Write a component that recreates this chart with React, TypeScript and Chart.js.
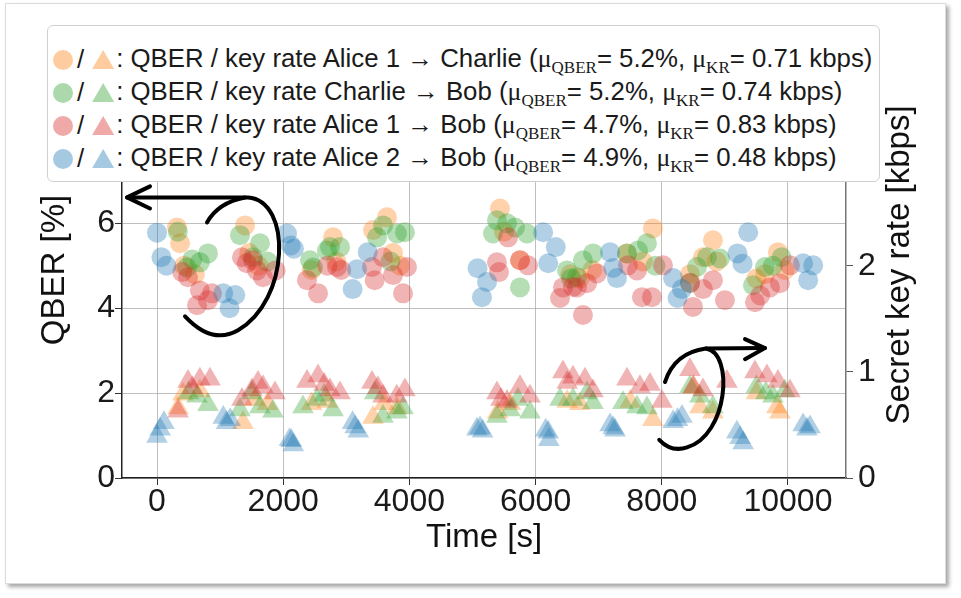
import React, { useEffect, useRef } from "react";
import { Chart, registerables } from "chart.js";

Chart.register(...registerables);

type Pt = [number, number];

const FONT = '"Liberation Sans", Arial, Helvetica, sans-serif';
const SERIF = '"Liberation Serif", "DejaVu Serif", serif';

// Link names and their mean values shown in the legend
const linkNames = ["Alice 1 → Charlie", "Charlie → Bob", "Alice 1 → Bob", "Alice 2 → Bob"];
const qberMeans = ["5.2", "5.2", "4.7", "4.9"];
const rateMeans = ["0.71", "0.74", "0.83", "0.48"];
const linkColors = ["255,127,14", "44,160,44", "214,39,40", "31,119,180"];

// Axis ticks
const timeTicks = [0, 2000, 4000, 6000, 8000, 10000];
const qberTicks = [0, 2, 4, 6];
const rateTicks = [0, 1, 2];

// Alice 1 → Charlie: [time s, QBER %] and [time s, key rate kbps]
const aliceCharlieQber: Pt[] = [
  [317, 5.9], [365, 5.53], [430, 5.0], [600, 4.8], [1395, 5.95], [1460, 5.3], [1610, 5.0],
  [2450, 4.9], [2790, 5.67], [2840, 5.1], [3423, 5.84], [3645, 6.14], [3740, 5.3], [3850, 5.0],
  [5436, 6.35], [5500, 5.8], [5753, 5.13], [6550, 4.8], [6700, 4.7], [6900, 4.9],
  [7448, 5.29], [7700, 5.1], [7860, 5.88], [8447, 4.8], [8653, 5.2], [8811, 5.6], [8870, 5.1],
  [9500, 4.7], [9636, 4.8], [9841, 5.32], [9950, 4.9],
];
const aliceCharlieRate: Pt[] = [
  [333, 0.66], [412, 0.79], [680, 0.82], [1363, 0.52], [1550, 0.74], [1750, 0.7],
  [2450, 0.7], [2700, 0.72], [3423, 0.57], [3600, 0.7], [3800, 0.66], [5400, 0.62], [5600, 0.7],
  [6500, 0.72], [6700, 0.7], [7500, 0.72], [7860, 0.55], [8500, 0.85], [8605, 0.67], [8811, 0.62],
  [9500, 0.8], [9825, 0.67], [9873, 0.62],
];

// Charlie → Bob
const charlieBobQber: Pt[] = [
  [330, 5.8], [475, 4.96], [560, 5.15], [680, 5.08], [808, 5.29], [1315, 5.72], [1521, 5.2],
  [1632, 5.53], [1750, 5.1], [2425, 5.13], [2472, 4.96], [2694, 5.36], [2742, 5.44], [2900, 5.44],
  [3487, 5.67], [3582, 5.95], [3700, 5.1], [3803, 5.76], [3930, 5.79], [5325, 5.76], [5388, 6.07],
  [5547, 6.0], [5674, 5.9], [5753, 4.49], [5864, 5.76], [6498, 4.89], [6560, 4.7], [6656, 4.73],
  [6751, 5.13], [6910, 5.29], [7448, 5.29], [7623, 5.36], [7765, 5.53], [7900, 5.0], [8447, 4.59],
  [8558, 4.97], [8716, 5.2], [8922, 5.17], [9445, 4.54], [9636, 4.97], [9760, 5.0], [9900, 5.2],
];
const charlieBobRate: Pt[] = [
  [500, 0.8], [634, 0.77], [808, 0.69], [1315, 0.64], [1500, 0.8], [1632, 0.67], [1838, 0.63],
  [2314, 0.67], [2536, 0.74], [2650, 0.78], [2790, 0.64], [3450, 0.8], [3582, 0.58], [3803, 0.62],
  [3900, 0.66], [5388, 0.58], [5595, 0.64], [5721, 0.74], [5911, 0.62], [6387, 0.74], [6593, 0.74],
  [6815, 0.8], [6910, 0.71], [7385, 0.71], [7607, 0.67], [7765, 0.66], [8447, 0.86], [8605, 0.77],
  [8811, 0.67], [9500, 0.86], [9650, 0.8], [9762, 0.77], [9950, 0.82],
];

// Alice 1 → Bob
const aliceBobQber: Pt[] = [
  [400, 4.85], [491, 4.73], [634, 4.07], [680, 4.42], [808, 4.19], [870, 4.35],
  [1347, 5.2], [1420, 5.06], [1521, 5.13], [1585, 4.89], [1680, 4.73], [1880, 4.89],
  [2377, 4.66], [2552, 4.35], [2700, 5.0], [2853, 4.97], [2920, 4.9],
  [3407, 4.97], [3450, 4.66], [3582, 5.2], [3740, 4.78], [3899, 4.35], [3962, 4.97],
  [5388, 5.08], [5420, 4.85], [5563, 5.67], [5753, 5.13], [5880, 5.01],
  [6387, 4.24], [6434, 4.49], [6593, 4.5], [6656, 4.49], [6751, 3.84], [6815, 4.59], [6973, 4.82],
  [7464, 5.01], [7607, 4.89], [7686, 4.26], [7844, 4.26], [8019, 5.01],
  [8447, 4.6], [8494, 4.03], [8653, 4.45], [8811, 4.66], [9001, 4.19],
  [9477, 4.14], [9560, 4.3], [9715, 4.49], [9873, 4.59], [10032, 5.01],
];
const aliceBobRate: Pt[] = [
  [333, 0.63], [491, 0.91], [560, 0.85], [680, 0.93], [840, 0.93],
  [1347, 0.74], [1506, 0.83], [1600, 0.9], [1680, 0.86], [1870, 0.8],
  [2377, 0.91], [2552, 0.96], [2650, 0.88], [2742, 0.83], [2900, 0.8],
  [3407, 0.9], [3500, 0.85], [3582, 0.77], [3800, 0.77], [3930, 0.83],
  [5388, 0.8], [5450, 0.74], [5547, 0.72], [5753, 0.86], [5911, 0.77],
  [6434, 1.0], [6500, 0.9], [6593, 0.95], [6783, 0.93], [6910, 0.82],
  [7448, 0.93], [7654, 0.86], [7813, 0.88], [8003, 0.72],
  [8447, 1.02], [8500, 0.86], [8653, 0.83], [9033, 0.91],
  [9477, 1.0], [9667, 0.96], [9841, 0.91], [10032, 0.82],
];

// Alice 2 → Bob
const alice2BobQber: Pt[] = [
  [0, 5.78], [70, 5.2], [150, 5.0], [1050, 4.35], [1150, 4.0], [1240, 4.31],
  [2060, 5.76], [2120, 5.48], [2170, 5.4], [3100, 4.45], [3170, 4.92], [3340, 5.32],
  [5080, 4.94], [5150, 4.26], [5230, 4.62], [6120, 5.79], [6200, 5.06], [6320, 5.44],
  [7180, 5.32], [7230, 4.95], [7290, 4.71], [8180, 4.71], [8250, 4.24], [8320, 4.45],
  [9200, 5.29], [9280, 5.05], [9370, 5.79], [10240, 5.06], [10320, 4.66], [10400, 5.01],
];
const alice2BobRate: Pt[] = [
  [0, 0.39], [50, 0.46], [110, 0.52], [1050, 0.57], [1100, 0.52], [1160, 0.55],
  [2100, 0.36], [2130, 0.35], [2160, 0.31], [3100, 0.52], [3140, 0.48], [3190, 0.44],
  [5070, 0.46], [5120, 0.47], [5160, 0.44], [6160, 0.45], [6200, 0.43], [6210, 0.36],
  [7180, 0.5], [7230, 0.47], [7260, 0.45], [8180, 0.53], [8250, 0.55], [8320, 0.58],
  [9190, 0.43], [9240, 0.38], [9290, 0.33], [10240, 0.5], [10300, 0.46], [10350, 0.48],
];

const qberSeries = [aliceCharlieQber, charlieBobQber, aliceBobQber, alice2BobQber];
const rateSeries = [aliceCharlieRate, charlieBobRate, aliceBobRate, alice2BobRate];

// Hand-drawn pointer arrows, in data units (time s, QBER %)
type Cmd = (string | number)[];
const axisArrows: Cmd[][] = [
  // towards the QBER axis
  [["M", -111, 6.87], ["L", -475, 6.61], ["L", -111, 6.35]],
  [["M", -475, 6.61], ["L", 1442, 6.61], ["C", 2139, 6.54, 2108, 4.19, 1284, 3.48], ["Q", 872, 3.13, 444, 3.81]],
  [["M", 792, 6.02], ["Q", 967, 6.49, 1395, 6.61]],
  // towards the key-rate axis
  [["M", 8051, 2.26], ["Q", 8200, 2.95, 8700, 3.05], ["L", 9635, 3.06]],
  [["M", 9319, 3.27], ["L", 9635, 3.06], ["L", 9319, 2.8]],
  [["M", 8700, 3.05], ["C", 9150, 2.95, 9050, 1.0, 8400, 0.72], ["Q", 8150, 0.6, 7960, 0.9]],
];

const rateTitle = "Secret key rate [kbps]";
const TITLE_SIZE = 33;
const TICK_SIZE = 32;

const rgba = (c: string, a: number) => `rgba(${c},${a})`;

const arrowPlugin = {
  id: "axisArrows",
  afterDatasetsDraw(chart: any) {
    const { ctx } = chart;
    const xs = chart.scales.x;
    const ys = chart.scales.y;
    const X = (v: number) => xs.getPixelForValue(v);
    const Y = (v: number) => ys.getPixelForValue(v);
    ctx.save();
    ctx.strokeStyle = "#000";
    ctx.lineWidth = 4;
    ctx.lineCap = "round";
    ctx.lineJoin = "round";
    for (const path of axisArrows) {
      ctx.beginPath();
      for (const c of path) {
        const n = c.slice(1) as number[];
        if (c[0] === "M") ctx.moveTo(X(n[0]), Y(n[1]));
        else if (c[0] === "L") ctx.lineTo(X(n[0]), Y(n[1]));
        else if (c[0] === "Q") ctx.quadraticCurveTo(X(n[0]), Y(n[1]), X(n[2]), Y(n[3]));
        else if (c[0] === "C") ctx.bezierCurveTo(X(n[0]), Y(n[1]), X(n[2]), Y(n[3]), X(n[4]), Y(n[5]));
      }
      ctx.stroke();
    }
    ctx.restore();
  },
  afterDraw(chart: any) {
    // right-hand axis title, reading bottom to top
    const { ctx, chartArea } = chart;
    ctx.save();
    ctx.translate(900, (chartArea.top + chartArea.bottom) / 2 - 5);
    ctx.rotate(-Math.PI / 2);
    ctx.textAlign = "center";
    ctx.textBaseline = "middle";
    ctx.font = `${TITLE_SIZE}px ${FONT}`;
    ctx.fillStyle = "#111";
    ctx.fillText(rateTitle, 0, 0);
    ctx.restore();
  },
};

export default function App() {
  const canvasRef = useRef<HTMLCanvasElement>(null);

  useEffect(() => {
    const canvas = canvasRef.current;
    if (!canvas) return;
    Chart.defaults.font.family = FONT;

    const datasets: any[] = [];
    // later links go first so they are painted on top
    for (let i = linkNames.length - 1; i >= 0; i--) {
      datasets.push({
        label: `QBER ${linkNames[i]}`,
        data: qberSeries[i].map(([x, y]) => ({ x, y })),
        yAxisID: "y",
        pointStyle: "circle",
        pointRadius: 10,
        pointHoverRadius: 10,
        pointBorderWidth: 0,
        borderWidth: 0,
        backgroundColor: rgba(linkColors[i], 0.35),
        borderColor: "rgba(0,0,0,0)",
      });
      datasets.push({
        label: `Key rate ${linkNames[i]}`,
        data: rateSeries[i].map(([x, y]) => ({ x, y })),
        yAxisID: "y2",
        pointStyle: "triangle",
        pointRadius: 12.5,
        pointHoverRadius: 12.5,
        pointBorderWidth: 0,
        borderWidth: 0,
        backgroundColor: rgba(linkColors[i], 0.35),
        borderColor: "rgba(0,0,0,0)",
      });
    }

    const tickFont = { size: TICK_SIZE, family: FONT };
    const titleFont = { size: TITLE_SIZE, family: FONT };
    const plain = (v: any) => String(v);

    const chart = new Chart(canvas, {
      type: "scatter",
      data: { datasets },
      options: {
        animation: false,
        responsive: false,
        devicePixelRatio: 1,
        events: [],
        layout: { padding: { top: 62, left: 0, right: 0, bottom: 0 } },
        plugins: { legend: { display: false }, tooltip: { enabled: false } },
        scales: {
          x: {
            type: "linear",
            position: "bottom",
            min: -555,
            max: 10920,
            afterBuildTicks: (s: any) => {
              s.ticks = timeTicks.map((value) => ({ value }));
            },
            afterFit: (s: any) => {
              s.height = 120;
            },
            ticks: { font: tickFont, color: "#1a1a1a", padding: -2, maxRotation: 0, autoSkip: false, callback: plain },
            grid: { color: "rgba(170,170,170,0.75)", lineWidth: 1, tickLength: 7, tickColor: "#333" },
            border: { color: "#222", width: 1.5 },
            title: { display: true, text: "Time [s]", font: titleFont, color: "#111", padding: { bottom: 40 } },
          },
          y: {
            type: "linear",
            position: "left",
            min: 0,
            max: 9.8,
            afterBuildTicks: (s: any) => {
              s.ticks = qberTicks.map((value) => ({ value }));
            },
            afterFit: (s: any) => {
              s.width = 122;
            },
            ticks: { font: tickFont, color: "#1a1a1a", padding: 0, callback: plain },
            grid: { color: "rgba(170,170,170,0.75)", lineWidth: 1, tickLength: 7, tickColor: "#333" },
            border: { color: "#222", width: 1.5 },
            title: { display: true, text: "QBER [%]", font: titleFont, color: "#111", padding: { top: 35 } },
          },
          y2: {
            type: "linear",
            position: "right",
            min: 0,
            max: 3.92,
            afterBuildTicks: (s: any) => {
              s.ticks = rateTicks.map((value) => ({ value }));
            },
            afterFit: (s: any) => {
              s.width = 115;
            },
            ticks: { font: tickFont, color: "#1a1a1a", padding: 5, callback: plain },
            grid: { drawOnChartArea: false, tickLength: 7, tickColor: "#555" },
            border: { color: "#777", width: 1.5 },
          },
        },
      } as any,
      plugins: [arrowPlugin],
    });
    return () => chart.destroy();
  }, []);

  const rows = linkNames.map((name, i) => (
    <div key={name} style={{ display: "flex", alignItems: "center", height: 33, whiteSpace: "nowrap" }}>
      <span
        style={{
          display: "inline-block",
          width: 20,
          height: 20,
          borderRadius: "50%",
          background: rgba(linkColors[i], 0.4),
          marginRight: 4,
        }}
      />
      <span>/</span>
      <span
        style={{
          display: "inline-block",
          width: 22,
          height: 19,
          background: rgba(linkColors[i], 0.4),
          clipPath: "polygon(50% 0, 100% 100%, 0 100%)",
          margin: "0 2px 0 8px",
        }}
      />
      <span>
        : QBER / key rate {name} (
        <span style={{ fontFamily: SERIF }}>μ</span>
        <span style={{ fontFamily: SERIF, fontSize: 17, position: "relative", top: 6 }}>QBER</span>= {qberMeans[i]}%,{" "}
        <span style={{ fontFamily: SERIF }}>μ</span>
        <span style={{ fontFamily: SERIF, fontSize: 17, position: "relative", top: 6 }}>KR</span>= {rateMeans[i]} kbps)
      </span>
    </div>
  ));

  return (
    <div
      style={{
        position: "absolute",
        left: 0,
        top: 0,
        width: 961,
        height: 598,
        background: "#fff",
        overflow: "hidden",
        fontFamily: FONT,
      }}
    >
      <div
        style={{
          position: "absolute",
          left: 5,
          top: 3,
          width: 941,
          height: 581,
          boxSizing: "border-box",
          border: "1px solid #dcdcdc",
          boxShadow: "3px 3px 4px rgba(0,0,0,0.35)",
          background: "#fff",
        }}
      />
      <canvas
        ref={canvasRef}
        width={961}
        height={598}
        style={{ position: "absolute", left: 0, top: 0, width: 961, height: 598 }}
      />
      <div
        style={{
          position: "absolute",
          left: 47,
          top: 25,
          width: 833,
          height: 157,
          boxSizing: "border-box",
          border: "1px solid #d0d0d0",
          borderRadius: 6,
          background: "#fff",
          padding: "17px 0 0 5px",
          fontSize: 25.8,
          color: "#1a1a1a",
          lineHeight: "33px",
        }}
      >
        {rows}
      </div>
    </div>
  );
}
